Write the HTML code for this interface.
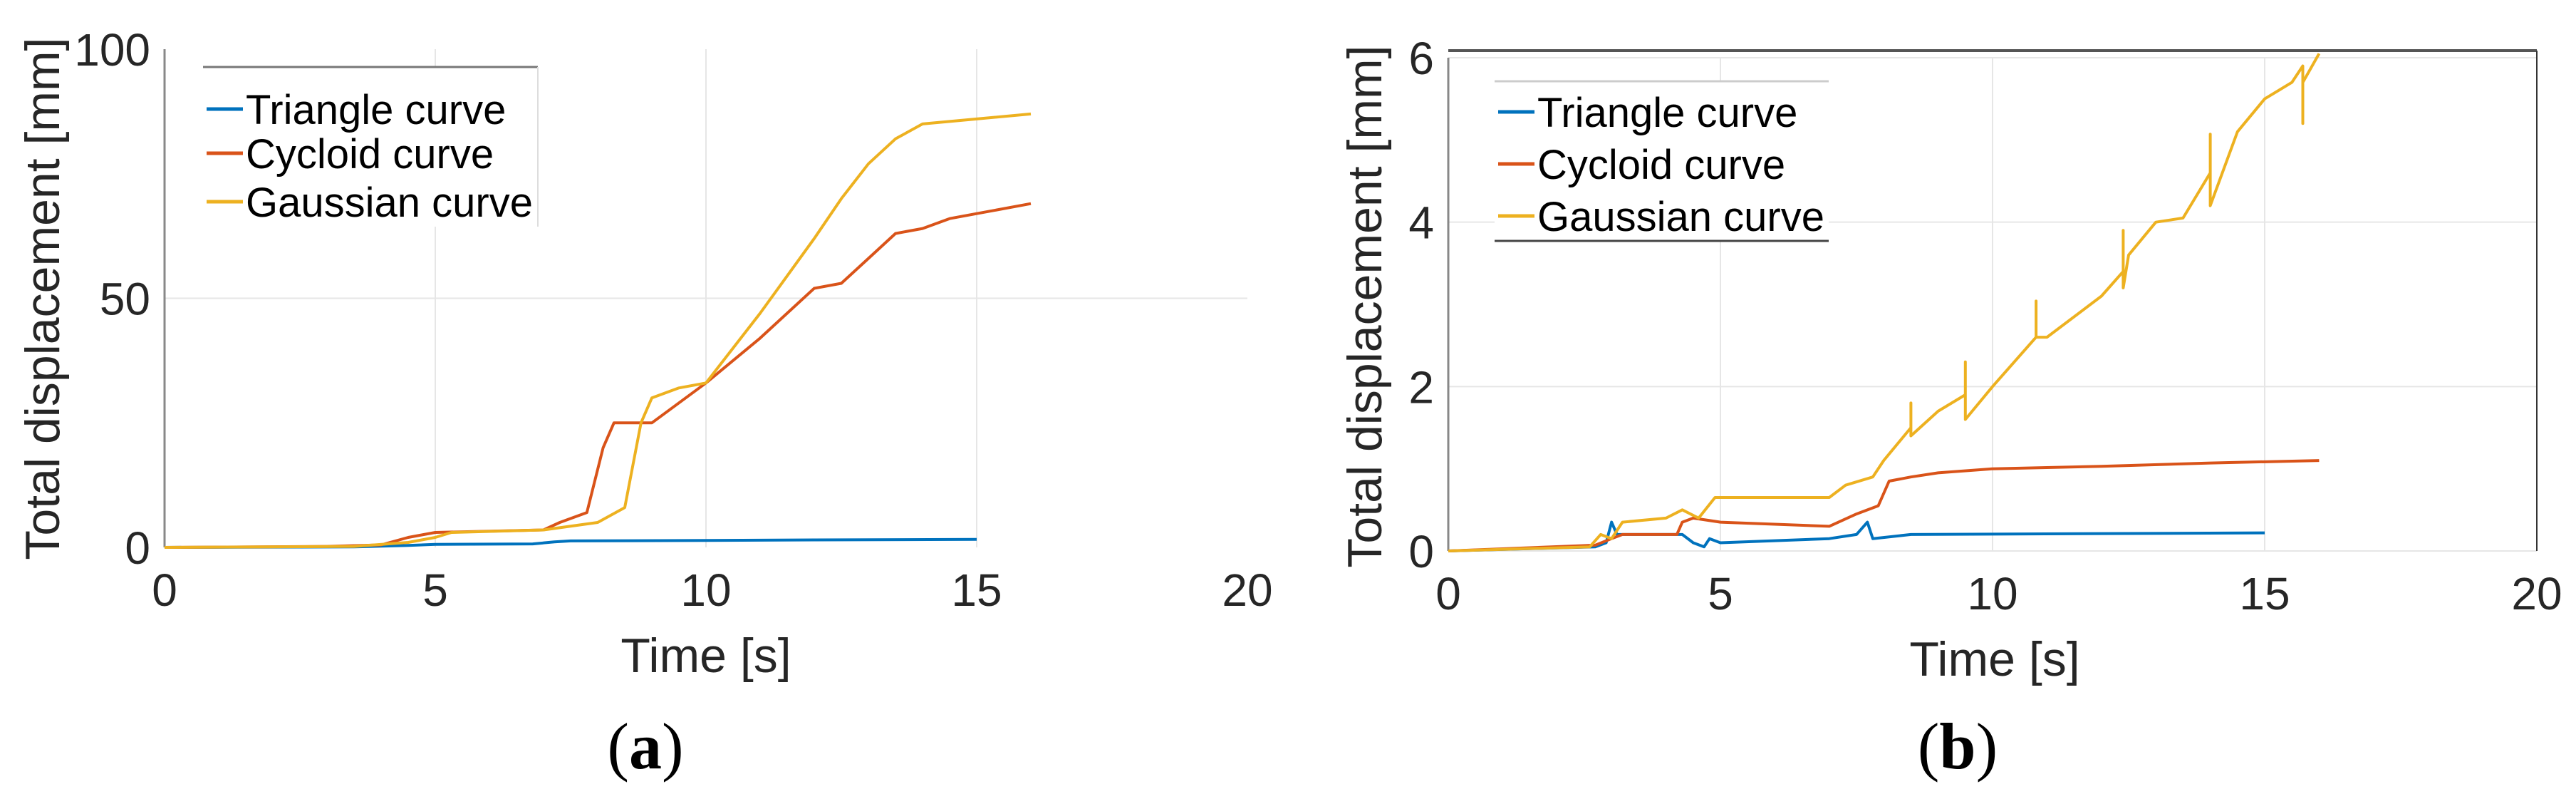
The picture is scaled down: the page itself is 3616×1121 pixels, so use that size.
<!DOCTYPE html>
<html><head><meta charset="utf-8"><style>
html,body{margin:0;padding:0;background:#fff;}
svg{display:block;font-family:"Liberation Sans",Arial,sans-serif;}
</style></head><body>
<svg id="fig" width="3616" height="1121" viewBox="0 0 3616 1121" xmlns="http://www.w3.org/2000/svg">
<g id="pa"></g>
<g id="pb"></g>
</svg>
<script>
// Panel (a) data
const aTriX=[0,3.5,4.5,5,6.8,7.2,7.5,10,12,15];
const aTriY=[0,0.1,0.4,0.6,0.7,1.1,1.3,1.4,1.5,1.6];
const aCycX=[0,3,4,4.5,5,7,7.3,7.8,8.1,8.3,9,10,11,12,12.5,13,13.5,14,14.5,15,16];
const aCycY=[0,0.2,0.5,2,3,3.5,5,7,20,25,25,33,42,52,53,58,63,64,66,67,69];
const aGauX=[0,3.5,4.5,5,5.3,7,8,8.5,8.8,9,9.5,10,11,12,12.5,13,13.5,14,15,16];
const aGauY=[0,0.2,1,2,3,3.5,5,8,25,30,32,33,47,62,70,77,82,85,86,87];
const aXTicks=[0,5,10,15,20];
const aYTicks=[0,50,100];
// Panel (b) data
const bTriX=[0,2.7,2.9,3.0,3.1,4.3,4.5,4.7,4.8,5,7,7.5,7.7,7.8,8.5,15];
const bTriY=[0,0.05,0.1,0.35,0.2,0.2,0.1,0.05,0.15,0.1,0.15,0.2,0.35,0.15,0.2,0.22];
const bCycX=[0,2.7,3,3.2,4.2,4.3,4.5,5,7,7.5,7.9,8.1,8.5,9,10,12,14,16];
const bCycY=[0,0.07,0.15,0.2,0.2,0.35,0.4,0.35,0.3,0.45,0.55,0.85,0.9,0.95,1.0,1.03,1.07,1.1];
const bGauX=[0,2.6,2.8,3,3.2,4,4.3,4.6,4.9,7,7.3,7.8,8,8.5,8.5,8.5,9,9.5,9.5,9.5,10,10.8,10.8,10.8,11,12,12.4,12.4,12.4,12.5,13,13.5,14,14,14,14.5,15,15.5,15.7,15.7,15.7,16];
const bGauY=[0,0.05,0.2,0.15,0.35,0.4,0.5,0.4,0.65,0.65,0.8,0.9,1.1,1.5,1.8,1.4,1.7,1.9,2.3,1.6,2.0,2.6,3.04,2.6,2.6,3.1,3.4,3.9,3.2,3.6,4.0,4.05,4.6,5.07,4.2,5.1,5.5,5.7,5.9,5.2,5.7,6.05];
const bXTicks=[0,5,10,15,20];
const bYTicks=[0,2,4,6];

const NS="http://www.w3.org/2000/svg";
function mk(parent,tag,attrs){const e=document.createElementNS(NS,tag);for(const k in attrs)e.setAttribute(k,attrs[k]);parent.appendChild(e);return e;}

function panel(g,cfg){
  const sx=v=>cfg.x0+(v-cfg.xmin)/(cfg.xmax-cfg.xmin)*(cfg.x1-cfg.x0);
  const sy=v=>cfg.y0-(v-cfg.ymin)/(cfg.ymax-cfg.ymin)*(cfg.y0-cfg.y1);
  // grid
  cfg.xt.forEach(t=>{ if(t>cfg.xmin&&t<cfg.xmax){const l=mk(g,'line',{x1:sx(t),x2:sx(t),y1:cfg.y1,y2:cfg.y0,stroke:'#e6e6e6','stroke-width':2});
    
    }});
  cfg.yt.forEach(t=>{ if(t>cfg.ymin&&t<cfg.ymax || cfg.gridAll){const l=mk(g,'line',{x1:cfg.x0,x2:cfg.x1,y1:sy(t),y2:sy(t),stroke:'#e6e6e6','stroke-width':2});
    
    }});
  // axes
  const ya=mk(g,'line',{x1:cfg.x0,x2:cfg.x0,y1:cfg.y1,y2:cfg.y0,stroke:'#888','stroke-width':3});
  
  
  if(cfg.box){
    const t=mk(g,'line',{x1:cfg.x0,x2:cfg.x1,y1:cfg.y1-10,y2:cfg.y1-10,stroke:'#555','stroke-width':4});
    
    
    const r=mk(g,'line',{x1:cfg.x1,x2:cfg.x1,y1:cfg.y1-10,y2:cfg.y0,stroke:'#333','stroke-width':2});
    
    
  }
  // ticks
  cfg.xt.forEach(t=>{const e=mk(g,'text',{x:sx(t),y:cfg.y0+82,'font-size':64,'text-anchor':'middle',fill:'#262626'});e.textContent=t;
    
    });
  cfg.yt.forEach(t=>{const e=mk(g,'text',{x:cfg.x0-20,y:sy(t)+23,'font-size':64,'text-anchor':'end',fill:'#262626'});e.textContent=t;
    
    });
  // series
  const cols=['#0072BD','#D95319','#EDB120'];
  const names=['series-triangle','series-cycloid','series-gaussian'];
  cfg.series.forEach((s,i)=>{
    const d=s[0].map((x,j)=>(j?'L':'M')+sx(x).toFixed(1)+' '+sy(s[1][j]).toFixed(1)).join(' ');
    const p=mk(g,'path',{d:d,fill:'none',stroke:cols[i],'stroke-width':4,'stroke-linejoin':'round'});
    
    
  });
  // legend
  const L=cfg.leg;
  const lg=mk(g,'g',{});
  
  
  mk(lg,'rect',{x:L.x,y:L.y,width:L.w,height:L.h,fill:'#fff',stroke:'none'});
  mk(lg,'line',{x1:L.x,x2:L.x+L.w,y1:L.y,y2:L.y,stroke:L.topc,'stroke-width':3});
  if(L.bot) mk(lg,'line',{x1:L.x,x2:L.x+L.w,y1:L.y+L.h,y2:L.y+L.h,stroke:'#444','stroke-width':3});
  else mk(lg,'line',{x1:L.x+L.w,x2:L.x+L.w,y1:L.y,y2:L.y+L.h,stroke:'#ddd','stroke-width':2});
  ['Triangle curve','Cycloid curve','Gaussian curve'].forEach((n,i)=>{
    const yy=L.ys[i];
    const ln=mk(lg,'line',{x1:L.x+5,x2:L.x+56,y1:yy,y2:yy,stroke:cols[i],'stroke-width':5});
    
    
    const t=mk(lg,'text',{x:L.x+60,y:yy+21,'font-size':58,fill:'#000'});t.textContent=n;
    
    
  });
  // titles
  const xt=mk(g,'text',{x:(cfg.x0+cfg.x1)/2+cfg.xtOff,y:cfg.y0+175,'font-size':68,'text-anchor':'middle',fill:'#262626'});xt.textContent='Time [s]';
  
  
  const yt=mk(g,'text',{x:0,y:0,'font-size':68,'text-anchor':'middle',fill:'#262626',transform:`translate(${cfg.ytx},${cfg.yty}) rotate(-90)`});yt.textContent='Total displacement [mm]';
  
  
  const lab=mk(g,'text',{x:cfg.labx,y:1078,'font-size':92,'text-anchor':'middle',fill:'#000','font-family':'"Liberation Serif",serif'});
  lab.innerHTML='(<tspan font-weight="bold">'+cfg.lab+'</tspan>)';
  
  
}

panel(document.getElementById('pa'),{x0:231,x1:1751,y0:768,y1:69,xmin:0,xmax:20,ymin:0,ymax:100,
  xt:aXTicks,yt:aYTicks,box:false,
  series:[[aTriX,aTriY],[aCycX,aCycY],[aGauX,aGauY]],
  leg:{x:285,y:94,w:470,h:224,ys:[153,215,283],topc:'#777',bot:false},
  xtOff:0,ytx:83,yty:419,labx:906,lab:'a'});
panel(document.getElementById('pb'),{x0:2033,x1:3561,y0:773,y1:81,xmin:0,xmax:20,ymin:0,ymax:6,
  xt:bXTicks,yt:bYTicks,box:true,gridAll:true,
  series:[[bTriX,bTriY],[bCycX,bCycY],[bGauX,bGauY]],
  leg:{x:2098,y:114,w:469,h:224,ys:[157,230,303],topc:'#ccc',bot:true},
  xtOff:3,ytx:1939,yty:430,labx:2748,lab:'b'});
</script>
</body></html>
